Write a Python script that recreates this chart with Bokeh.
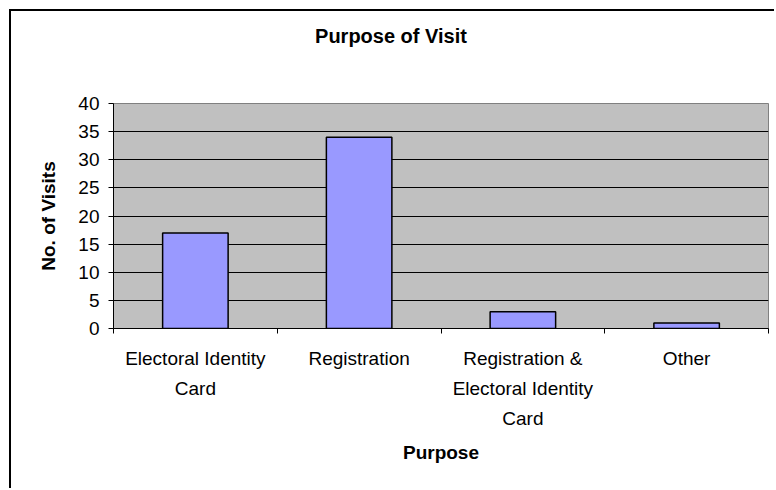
import numpy as np
from bokeh.plotting import figure
from bokeh.models import FixedTicker, Range1d, LinearAxis
from bokeh.embed import file_html
from bokeh.resources import INLINE

# ---- data ----
title_text = "Purpose of Visit"
categories = ["Electoral Identity Card", "Registration",
              "Registration & Electoral Identity Card", "Other"]
category_labels = ["Electoral Identity\nCard", "Registration",
                   "Registration &\nElectoral Identity\nCard", "Other"]
visits = [17, 34, 3, 1]
y_ticks = [0, 5, 10, 15, 20, 25, 30, 35, 40]

FONT = "Liberation Sans"

n = len(categories)
centers = list(np.arange(n) + 0.5)
bounds = list(np.arange(n + 1).astype(float))

p = figure(width=765, height=479, output_backend="svg", toolbar_location=None,
           x_range=Range1d(0, n), y_range=Range1d(y_ticks[0], y_ticks[-1]),
           min_border_left=102, min_border_right=8, min_border_top=92,
           min_border_bottom=162)
p.margin = (9, 0, 0, 9)
p.styles = {"border-left": "2px solid black", "border-top": "2px solid black"}

p.background_fill_color = "#C0C0C0"
p.border_fill_color = "white"
p.outline_line_color = "#808080"
p.outline_line_width = 1

xa = p.below[0]
ya = p.left[0]

# chart title: label of a bare axis above; trailing no-break spaces shift the
# visible text left so it is centred on the whole chart box, not the plot area
tax = LinearAxis(ticker=FixedTicker(ticks=[], minor_ticks=[]),
                 axis_line_color=None, major_tick_line_color=None,
                 minor_tick_line_color=None, major_label_text_font_size="0px",
                 major_tick_out=0, minor_tick_out=0, major_label_standoff=0,
                 axis_label=title_text + "\u00a0" * 18, axis_label_text_font=FONT,
                 axis_label_text_font_size="20px",
                 axis_label_text_font_style="bold",
                 axis_label_text_color="black", axis_label_standoff=57)
p.add_layout(tax, "above")

p.vbar(x=centers, top=visits, width=0.4, bottom=0,
       fill_color="#9999FF", line_color="black", line_width=1.5)

# grid
p.xgrid.visible = False
p.ygrid.grid_line_color = "black"
p.ygrid.grid_line_width = 1
p.ygrid.ticker = FixedTicker(ticks=y_ticks)

# y axis
ya.ticker = FixedTicker(ticks=y_ticks)
ya.axis_label = "No. of Visits"
ya.axis_label_text_font = FONT
ya.axis_label_text_font_size = "19px"
ya.axis_label_text_font_style = "bold"
ya.axis_label_text_color = "black"
ya.axis_label_standoff = 16
ya.major_label_text_font = FONT
ya.major_label_text_font_size = "19px"
ya.major_label_text_color = "black"
ya.major_label_standoff = 9
ya.major_tick_out = 5
ya.major_tick_in = 0
ya.minor_tick_out = 0
ya.minor_tick_in = 0
ya.axis_line_color = "black"
ya.major_tick_line_color = "black"

# x axis
xa.ticker = FixedTicker(ticks=centers, minor_ticks=bounds)
xa.major_label_overrides = {c: l for c, l in zip(centers, category_labels)}
xa.major_tick_out = 0
xa.major_tick_in = 0
xa.minor_tick_out = 5
xa.minor_tick_in = 0
xa.minor_tick_line_color = "black"
xa.axis_line_color = "black"
xa.major_label_text_font = FONT
xa.major_label_text_font_size = "19px"
xa.major_label_text_color = "black"
xa.major_label_text_line_height = 1.45
xa.major_label_standoff = 14
xa.axis_label = "Purpose"
xa.axis_label_text_font = FONT
xa.axis_label_text_font_size = "19px"
xa.axis_label_text_font_style = "bold"
xa.axis_label_text_color = "black"
xa.axis_label_standoff = 10

open("out.html", "w").write(file_html(p, INLINE))
